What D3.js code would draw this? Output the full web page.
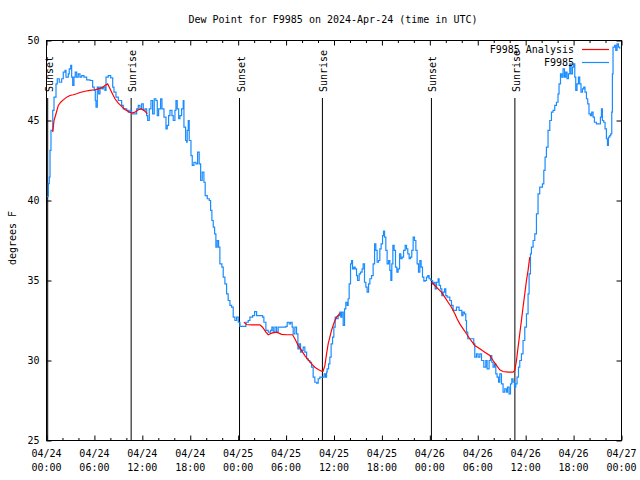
<!DOCTYPE html>
<html><head><meta charset="utf-8">
<script src="https://cdn.jsdelivr.net/npm/d3@7"></script>
<style>
body{margin:0;background:#fff}
text{font-family:"DejaVu Sans Mono",monospace;font-size:10px;fill:#000}
</style>
</head><body>
<svg id="chart" width="640" height="480"></svg>
<script>
// ---------------- DATA ----------------
const titleText = "Dew Point for F9985 on 2024-Apr-24 (time in UTC)";
const yLabel = "degrees F";
const startUTC = Date.UTC(2024, 3, 24, 0, 0);
const spanHours = 72;
const yTicks = [25, 30, 35, 40, 45, 50];
const xTickHours = [0, 6, 12, 18, 24, 30, 36, 42, 48, 54, 60, 66, 72];
const xTickDates = ["04/24","04/24","04/24","04/24","04/25","04/25","04/25","04/25","04/26","04/26","04/26","04/26","04/27"];
const xTickTimes = ["00:00","06:00","12:00","18:00","00:00","06:00","12:00","18:00","00:00","06:00","12:00","18:00","00:00"];
const sunEventHours = [0.15, 10.60, 24.17, 34.55, 48.20, 58.65];
const sunEventNames = ["Sunset","Sunrise","Sunset","Sunrise","Sunset","Sunrise"];
const seriesNames = ["F9985 Analysis", "F9985"];

// Station observations (hours since 04/24 00:00 UTC, dew point F)
const obsHours = [0.06,0.23,0.35,0.44,0.56,0.78,0.94,1.19,1.35,1.60,1.90,2.10,2.32,2.44,2.73,2.85,3.03,3.15,3.28,3.44,3.60,3.78,3.98,4.19,4.41,4.69,5.03,5.44,5.66,5.78,5.98,6.11,6.20,6.36,6.53,6.70,6.95,7.11,7.32,7.45,7.73,8.04,8.29,8.45,8.70,8.99,9.20,9.41,9.61,9.82,10.04,10.24,10.45,10.66,11.08,11.29,11.49,11.70,11.91,12.12,12.33,12.54,12.67,12.87,13.08,13.29,13.49,13.70,13.87,14.04,14.29,14.46,14.71,14.96,15.12,15.29,15.46,15.71,15.87,16.08,16.21,16.37,16.55,16.71,16.92,17.12,17.21,17.42,17.55,17.62,17.75,17.87,18.09,18.25,18.46,18.71,18.92,19.12,19.30,19.50,19.71,19.87,20.13,20.38,20.55,20.71,20.88,21.05,21.21,21.38,21.55,21.71,21.96,22.13,22.34,22.55,22.75,22.97,23.18,23.38,23.59,23.80,24.01,24.22,24.72,24.97,25.26,25.47,25.81,26.06,26.31,26.72,27.06,27.22,27.47,27.76,28.06,28.22,28.39,28.60,28.81,29.01,29.64,29.97,30.14,30.39,30.56,30.76,30.89,31.10,31.31,31.48,31.64,31.81,31.98,32.14,32.35,32.57,32.77,32.98,33.19,33.39,33.60,33.82,34.02,34.23,34.57,34.77,34.94,35.07,35.14,35.32,35.48,35.64,35.82,35.98,36.15,36.32,36.52,36.73,36.86,36.98,37.15,37.32,37.48,37.65,37.77,37.90,38.07,38.20,38.32,38.49,38.65,38.82,38.95,39.15,39.32,39.52,39.65,39.82,39.99,40.15,40.33,40.49,40.70,40.90,41.08,41.24,41.40,41.58,41.74,41.90,42.08,42.20,42.33,42.49,42.65,42.83,42.99,43.12,43.24,43.37,43.53,43.70,43.87,44.03,44.21,44.37,44.53,44.71,44.91,45.08,45.24,45.41,45.58,45.74,45.91,46.08,46.25,46.41,46.58,46.75,46.91,47.08,47.25,47.41,47.58,47.75,47.91,48.12,48.34,48.50,48.66,48.84,49.04,49.16,49.34,49.50,49.66,49.84,50.00,50.16,50.34,50.50,50.71,50.91,51.13,51.34,51.50,51.66,51.84,52.00,52.16,52.34,52.50,52.59,52.75,53.34,53.50,53.63,53.84,54.04,54.26,54.47,54.76,55.01,55.17,55.42,55.59,55.76,55.92,56.10,56.26,56.42,56.60,56.76,56.97,57.17,57.38,57.60,57.72,57.92,58.10,58.26,58.42,58.60,58.76,58.92,59.10,59.26,59.47,59.67,59.89,60.10,60.30,60.43,60.60,60.72,60.93,61.14,61.35,61.55,61.76,62.10,62.27,62.43,62.60,62.80,63.02,63.23,63.43,63.64,63.85,64.05,64.18,64.36,64.52,64.68,64.86,65.02,65.18,65.36,65.52,65.68,65.86,66.02,66.15,66.27,66.43,66.61,66.77,66.93,67.11,67.27,67.43,67.61,67.77,67.93,68.11,68.27,68.44,68.61,68.86,69.19,69.36,69.49,69.61,69.77,69.94,70.11,70.24,70.36,70.53,70.65,70.78,70.86,70.94,71.15,71.28,71.44,71.61,71.78];
const obsDewpt = [40.25,41.06,41.46,43.13,44.38,45.63,46.46,47.29,47.61,47.39,47.61,48.02,48.13,47.71,47.92,48.23,48.44,47.71,47.19,47.71,48.02,47.71,47.92,47.71,47.81,47.71,47.54,47.50,47.50,47.08,46.88,46.25,45.83,47.08,46.67,47.08,46.98,47.08,46.88,47.71,47.81,47.67,47.08,46.77,46.46,46.25,46.25,45.94,45.73,45.73,45.63,45.52,45.63,45.42,45.42,45.73,45.94,45.73,46.04,45.63,45.73,45.31,45.00,45.73,46.25,45.42,46.36,46.25,45.31,45.73,46.36,45.73,45.21,44.48,44.69,45.31,45.63,45.31,45.00,45.63,46.25,45.73,45.11,45.31,45.73,46.25,44.58,43.75,43.64,44.38,45.00,43.75,42.81,42.19,42.39,42.29,43.02,42.29,41.25,41.77,41.14,40.31,40.11,40.00,39.38,38.75,38.33,37.92,37.08,37.50,37.08,36.04,35.83,35.21,34.79,34.17,33.75,33.44,33.33,32.71,32.50,32.71,32.39,32.13,32.13,32.39,32.50,32.71,32.81,33.06,32.81,32.81,32.71,32.39,31.88,31.77,31.88,32.08,31.77,32.08,31.77,32.08,32.08,32.13,32.39,32.29,32.39,32.08,31.67,32.08,31.67,30.73,31.04,30.52,30.63,30.83,30.52,30.11,30.00,29.89,29.58,28.96,28.64,28.58,28.86,28.96,28.96,29.17,28.96,29.27,29.48,29.79,30.21,31.04,31.46,32.08,32.71,32.61,32.81,33.02,32.71,33.02,32.19,33.23,33.64,33.44,33.86,34.79,36.04,36.25,35.73,35.83,35.73,35.31,35.00,35.42,35.52,35.73,36.04,34.89,34.58,34.27,34.79,35.11,35.31,36.04,37.29,36.88,36.14,36.25,36.98,37.29,37.81,38.08,37.71,36.88,36.04,36.25,35.63,35.00,36.04,37.19,36.88,35.83,35.52,35.73,36.67,36.36,36.46,36.88,37.19,36.98,36.67,36.36,36.46,36.88,37.71,37.50,36.88,36.04,35.52,36.25,35.83,35.21,34.96,35.00,35.21,35.31,35.11,35.00,34.79,34.89,34.48,34.89,35.11,34.69,34.48,34.06,34.27,34.48,34.06,33.96,33.96,33.75,33.44,33.13,33.13,33.33,33.33,33.13,33.13,32.81,33.02,32.92,32.50,31.77,31.36,31.36,31.04,30.21,30.42,30.21,30.42,30.00,29.58,30.00,29.48,30.00,30.31,29.89,29.58,29.79,29.17,28.96,28.64,29.17,28.54,28.02,28.23,28.02,28.33,27.92,28.54,28.86,28.64,28.33,28.54,28.96,29.58,30.00,30.42,31.25,32.08,32.92,34.17,35.42,36.67,37.08,37.50,37.92,39.17,40.42,40.83,41.04,41.88,42.71,43.33,44.38,45.00,45.52,45.63,45.94,46.14,46.67,47.29,47.92,47.71,48.23,47.71,48.02,47.61,47.92,48.54,47.92,48.33,48.54,47.71,46.88,47.29,47.71,47.29,46.77,46.98,47.08,46.77,46.36,46.04,45.42,45.31,45.52,45.21,44.89,44.79,44.79,45.21,45.73,45.00,44.89,44.48,43.86,43.44,43.96,44.06,44.17,45.52,47.92,49.58,49.69,49.38,49.79,49.58,49.48];

// Analysis (null = gap in the analysis record)
const anaHours = [0.78,0.94,1.19,1.48,1.78,2.10,2.53,2.94,3.35,3.78,4.19,4.82,5.44,6.07,6.48,6.91,7.32,7.66,7.86,8.16,8.57,8.99,9.41,9.82,10.24,10.66,11.08,11.49,11.91,12.20,12.45,12.62,
  18.0,
  24.72,25.06,25.68,26.72,27.06,27.47,27.76,28.19,28.81,29.44,30.06,30.81,31.10,31.51,31.94,32.35,32.77,33.19,33.60,34.02,34.44,34.64,34.86,35.07,35.27,35.48,35.69,35.89,36.11,36.32,36.52,36.73,
  42.0,
  48.21,48.62,49.04,49.46,49.87,50.29,50.71,51.13,51.41,51.75,52.17,52.59,53.00,53.63,54.26,54.88,55.51,55.92,56.35,56.76,57.17,57.80,58.42,58.64,58.85,59.05,59.26,59.47,59.67,59.89,60.10,60.30,60.51];
const anaDewpt = [44.27,45.00,45.42,45.94,46.14,46.29,46.46,46.56,46.61,46.67,46.75,46.83,46.88,46.92,46.98,47.04,47.19,47.29,47.08,46.77,46.36,46.08,45.88,45.69,45.56,45.46,45.52,45.67,45.73,45.63,45.52,45.42,
  null,
  32.39,32.25,32.23,32.23,32.08,31.77,31.61,31.71,31.77,31.63,31.61,31.61,31.36,30.94,30.63,30.31,30.04,29.79,29.58,29.44,29.33,29.33,29.69,30.42,31.04,31.46,31.88,32.19,32.50,32.71,32.81,32.96,
  null,
  34.89,34.69,34.48,34.27,33.96,33.64,33.33,32.92,32.61,32.29,31.98,31.67,31.36,30.94,30.73,30.52,30.31,30.00,29.69,29.42,29.31,29.27,29.27,29.38,30.00,30.83,31.67,32.50,33.33,34.17,35.00,35.63,36.46];

// ---------------- DRAW ----------------
const svg = d3.select("#chart");
const L = 46.5, R = 621.5, T = 40.5, B = 440.5;
const toDate = h => new Date(startUTC + h * 3600e3);

const x = d3.scaleUtc().domain([toDate(0), toDate(spanHours)]).range([L, R]);
const y = d3.scaleLinear().domain([25, 50]).range([B, T]);

const colAna = "#ff0000", colObs = "#1a8cff";

// title
svg.append("text").attr("x", 333).attr("y", 23).attr("text-anchor", "middle").text(titleText);

// y label
svg.append("text").attr("transform", "translate(15.5,238) rotate(-90)")
  .attr("text-anchor", "middle").text(yLabel);

// axes ticks (inward), using d3 axes
const majorDates = xTickHours.map(toDate);
const minorDates = d3.range(0, spanHours + 1, 2).filter(h => h % 6 !== 0).map(toDate);

function xTicks(gen, ypos, size, vals) {
  const g = svg.append("g").attr("transform", `translate(0,${ypos})`)
    .call(gen(x).tickValues(vals).tickSize(size).tickFormat(""));
  g.select(".domain").remove();
  g.selectAll("line").attr("stroke", "#000");
}
xTicks(d3.axisBottom, B, -5, majorDates);
xTicks(d3.axisBottom, B, -2.5, minorDates);
xTicks(d3.axisTop, T, -5, majorDates);
xTicks(d3.axisTop, T, -2.5, minorDates);

function yT(gen, xpos) {
  const g = svg.append("g").attr("transform", `translate(${xpos},0)`)
    .call(gen(y).tickValues(yTicks).tickSize(-5).tickFormat(""));
  g.select(".domain").remove();
  g.selectAll("line").attr("stroke", "#000");
}
yT(d3.axisLeft, L);
yT(d3.axisRight, R);

// y tick labels
svg.append("g").selectAll("text").data(yTicks).join("text")
  .attr("x", 39.5).attr("y", d => y(d) + 3.5).attr("text-anchor", "end").text(d => d);

// x tick labels (two lines)
const xl = svg.append("g").selectAll("g").data(xTickHours).join("g")
  .attr("transform", d => `translate(${x(toDate(d))},0)`);
xl.append("text").attr("y", 457).attr("text-anchor", "middle").text((d, i) => xTickDates[i]);
xl.append("text").attr("y", 471).attr("text-anchor", "middle").text((d, i) => xTickTimes[i]);

// sunrise / sunset markers
const se = svg.append("g").selectAll("g").data(sunEventHours).join("g")
  .attr("transform", d => `translate(${x(toDate(d))},0)`);
se.append("line").attr("x1", 0).attr("x2", 0).attr("y1", 98).attr("y2", B)
  .attr("stroke", "#000").attr("stroke-width", 1);
se.append("text").attr("transform", "translate(5,92) rotate(-90)")
  .attr("text-anchor", "start").text((d, i) => sunEventNames[i]);

// series
const obsData = obsHours.map((h, i) => ({t: toDate(h), v: obsDewpt[i]}));
const anaData = anaHours.map((h, i) => ({t: toDate(h), v: anaDewpt[i]}));
const line = d3.line().defined(d => d.v != null).x(d => x(d.t)).y(d => y(d.v)).curve(d3.curveStepAfter);
const lineA = d3.line().defined(d => d.v != null).x(d => x(d.t)).y(d => y(d.v));

svg.append("path").datum(obsData).attr("d", line)
  .attr("fill", "none").attr("stroke", colObs).attr("stroke-width", 1.2);
svg.append("path").datum(anaData).attr("d", lineA)
  .attr("fill", "none").attr("stroke", colAna).attr("stroke-width", 1.2);

// border
svg.append("rect").attr("x", L).attr("y", T).attr("width", R - L).attr("height", B - T)
  .attr("fill", "none").attr("stroke", "#000").attr("stroke-width", 1);

// legend
const leg = svg.append("g");
const legRows = [{name: seriesNames[0], c: colAna, y: 49.5}, {name: seriesNames[1], c: colObs, y: 62.5}];
legRows.forEach(r => {
  leg.append("text").attr("x", 574).attr("y", r.y + 3.5).attr("text-anchor", "end").text(r.name);
  leg.append("line").attr("x1", 582).attr("x2", 609).attr("y1", r.y).attr("y2", r.y)
    .attr("stroke", r.c).attr("stroke-width", 1.2);
});
</script>
</body></html>
